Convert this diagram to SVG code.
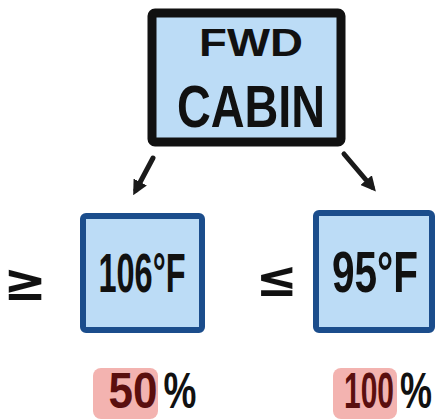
<svg xmlns="http://www.w3.org/2000/svg" width="437" height="419" viewBox="0 0 437 419">
<style>
.t{font-family:"Liberation Sans","DejaVu Sans",sans-serif;font-weight:bold;fill:#111;}
.sym{font-family:"Noto Sans","DejaVu Sans",sans-serif;font-weight:bold;fill:#111;}
.m{text-anchor:middle;}
.red{fill:#5a0f0f;}
.sub{fill:#bcdcf6;stroke:#1b4d8c;stroke-width:6;stroke-linejoin:round;}
.hl{fill:#f3b3b0;}
.conn{stroke:#1a1a1a;stroke-width:5;stroke-linecap:round;fill:none;}
</style>
<defs>
<marker id="ah" viewBox="0 0 10 10" refX="6" refY="5" markerWidth="3" markerHeight="3" orient="auto">
<path d="M0,0 L10,5 L0,10 Z" fill="#1a1a1a"/>
</marker>
</defs>
<rect width="437" height="419" fill="#fff"/>
<g id="fwd-cabin">
<rect x="152" y="13" width="189" height="129" rx="3" fill="#bcdcf6" stroke="#111" stroke-width="9" stroke-linejoin="round"/>
<text class="t m" font-size="38" transform="translate(251,56) scale(1.2,1)">FWD</text>
<text class="t m" font-size="60" transform="translate(251,127) scale(0.78,1)">CABIN</text>
</g>
<g id="connectors">
<line class="conn" x1="153" y1="158" x2="136" y2="190" marker-end="url(#ah)"/>
<line class="conn" x1="344" y1="154" x2="372" y2="187" marker-end="url(#ah)"/>
</g>
<g id="hot">
<rect class="sub" x="83" y="216" width="119" height="114" rx="3"/>
<text class="t m" font-size="56" transform="translate(142,292) scale(0.58,1)">106°F</text>
<text class="sym m" font-size="52" transform="translate(25,300)">≥</text>
</g>
<g id="cool">
<rect class="sub" x="316" y="213" width="116" height="117" rx="3"/>
<text class="t m" font-size="58" transform="translate(375,292) scale(0.7,1)">95°F</text>
<text class="sym m" font-size="50" transform="translate(277,296)">≤</text>
</g>
<g id="pct-50">
<rect class="hl" x="93" y="368" width="65" height="51" rx="8"/>
<text class="t red m" font-size="50" transform="translate(133,408) scale(0.88,1)">50</text>
<text class="t m" font-size="50" transform="translate(180,408) scale(0.74,1)">%</text>
</g>
<g id="pct-100">
<rect class="hl" x="333" y="368" width="64" height="51" rx="8"/>
<text class="t red m" font-size="50" transform="translate(369,408) scale(0.6,1)">100</text>
<text class="t m" font-size="50" transform="translate(416,408) scale(0.72,1)">%</text>
</g>
</svg>
